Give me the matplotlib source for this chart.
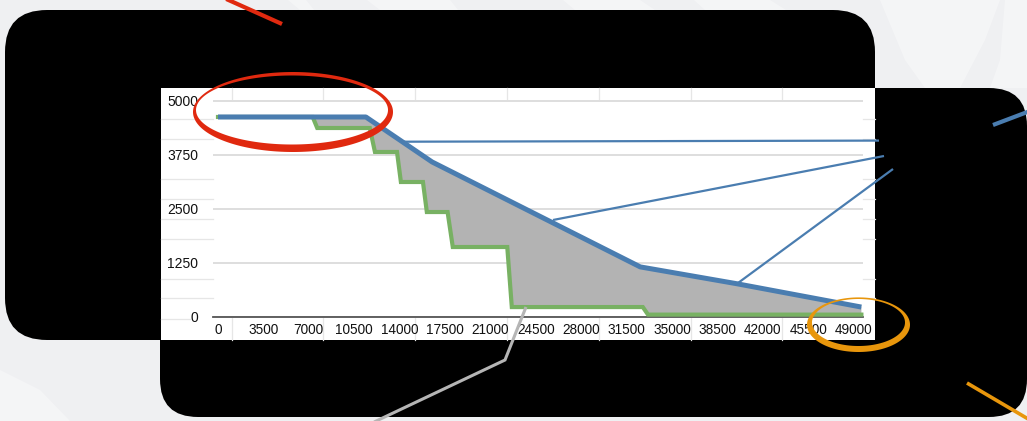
import matplotlib
matplotlib.use("Agg")
import matplotlib.pyplot as plt
from matplotlib.patches import FancyBboxPatch, Rectangle, PathPatch, Polygon
from matplotlib.path import Path
import numpy as np

# ---------------- data ----------------
x_ticks = [0, 3500, 7000, 10500, 14000, 17500, 21000, 24500, 28000,
           31500, 35000, 38500, 42000, 45500, 49000]
x_tick_labels = [str(v) for v in x_ticks]
y_ticks = [0, 1250, 2500, 3750, 5000]
y_tick_labels = [str(v) for v in y_ticks]

blue_x = [0, 11400, 16500, 32550, 40000, 49600]
blue_y = [4630, 4630, 3590, 1160, 770, 230]

green_x = [0, 7300, 7650, 11700, 12100, 13800, 14100, 15800, 16100,
           17700, 18100, 22300, 22650, 32750, 33150, 49600]
green_y = [4630, 4630, 4375, 4375, 3820, 3820, 3125, 3125, 2430,
           2430, 1620, 1620, 230, 230, 55, 55]

# ---------------- styles ----------------
BG = "#eff0f2"
BLUE = "#4a7db0"
GREEN = "#78b163"
FILL = "#b3b3b3"
RED = "#e0290f"
ORANGE = "#e8960c"
LGRAY = "#b5b5b5"
GRID = "#dedede"
FONT = "Liberation Sans"

W, H = 1027, 421
fig = plt.figure(figsize=(W / 100, H / 100), dpi=100)
fig.patch.set_facecolor(BG)

# background / decoration layer (pixel coordinates)
bg = fig.add_axes([0, 0, 1, 1], zorder=0)
bg.set_xlim(0, W)
bg.set_ylim(H, 0)
bg.axis("off")
bg.patch.set_alpha(0)

# faint white splashes in the background
for poly in [
    [(288, 0), (300, 10), (314, 10), (306, 0)],
    [(367, 0), (380, 10), (458, 10), (450, 0)],
    [(563, 0), (575, 10), (655, 10), (640, 0)],
    [(694, 0), (705, 10), (786, 10), (770, 0)],
    [(880, 0), (905, 60), (925, 88), (960, 88), (985, 40), (1000, 0)],
    [(1005, 0), (1000, 60), (990, 88), (1027, 88), (1027, 0)],
    [(0, 370), (40, 390), (70, 421), (0, 421)],
]:
    bg.add_patch(Polygon(poly, closed=True, facecolor="white", edgecolor="none", alpha=0.35))

# black rounded boxes
bg.add_patch(FancyBboxPatch((5, 10), 870, 330,
                            boxstyle="round,pad=0,rounding_size=42",
                            facecolor="black", edgecolor="none"))
bg.add_patch(FancyBboxPatch((160, 88), 867, 329,
                            boxstyle="round,pad=0,rounding_size=38",
                            facecolor="black", edgecolor="none"))
# white chart image
bg.add_patch(Rectangle((161, 88), 714, 252, facecolor="white", edgecolor="none"))

# spreadsheet cell lines behind the chart
for yy in [119, 139, 179, 199, 219, 239, 279, 298]:
    bg.plot([161, 213], [yy, yy], color="#e6e6e6", lw=0.9)
    bg.plot([863, 875], [yy, yy], color="#e6e6e6", lw=0.9)
bg.plot([161, 190], [319, 319], color="#e6e6e6", lw=0.9)
for xx in [232, 323, 415, 507, 599, 691, 782]:
    bg.plot([xx, xx], [88, 100], color="#e6e6e6", lw=0.9)
    bg.plot([xx, xx], [318, 340], color="#e6e6e6", lw=0.9)

# ---------------- chart axes ----------------
px_per_unit_x = 45.4 / 3500.0
x0_px = 218.0
ax_left_px, ax_right_px = 213.0, 863.0
ax_top_px, ax_bot_px = 88.0, 317.0
px_per_unit_y = 216.0 / 5000.0

xmin = (ax_left_px - x0_px) / px_per_unit_x
xmax = (ax_right_px - x0_px) / px_per_unit_x
ymax = (ax_bot_px - ax_top_px) / px_per_unit_y

ax = fig.add_axes([ax_left_px / W, 1 - ax_bot_px / H,
                   (ax_right_px - ax_left_px) / W, (ax_bot_px - ax_top_px) / H],
                  zorder=1)
ax.patch.set_alpha(0)
ax.set_xlim(xmin, xmax)
ax.set_ylim(0, ymax)

ax.set_yticks(y_ticks)
ax.set_yticklabels(y_tick_labels, fontsize=10, family=FONT, color="#111111")
ax.set_xticks(x_ticks)
ax.set_xticklabels(x_tick_labels, fontsize=9.8, family=FONT, color="#111111")
ax.tick_params(axis="both", length=0)
ax.tick_params(axis="y", pad=10.5)
ax.tick_params(axis="x", pad=4.5)
for s in ["top", "right", "left"]:
    ax.spines[s].set_visible(False)
ax.spines["bottom"].set_color("#555555")
ax.spines["bottom"].set_linewidth(1.3)
ax.grid(axis="y", color=GRID, lw=1.4)
ax.set_axisbelow(True)

# shaded gap between the two series
poly_x = list(blue_x) + list(green_x[::-1])
poly_y = list(blue_y) + list(green_y[::-1])
ax.fill(poly_x, poly_y, color=FILL, lw=0, zorder=2)

ax.plot(green_x, green_y, color=GREEN, lw=3.0, zorder=3,
        solid_joinstyle="miter", clip_on=False)
ax.plot(blue_x, blue_y, color=BLUE, lw=3.6, zorder=4,
        solid_capstyle="butt", clip_on=False)

# ---------------- overlay annotations ----------------
ov = fig.add_axes([0, 0, 1, 1], zorder=3)
ov.set_xlim(0, W)
ov.set_ylim(H, 0)
ov.axis("off")
ov.patch.set_alpha(0)


def ring(cx_o, cy_o, a_o, b_o, cx_i, cy_i, a_i, b_i, color):
    t = np.linspace(0, 2 * np.pi, 240)
    outer = np.column_stack([cx_o + a_o * np.cos(t), cy_o + b_o * np.sin(t)])
    inner = np.column_stack([cx_i + a_i * np.cos(-t), cy_i + b_i * np.sin(-t)])
    codes = [Path.MOVETO] + [Path.LINETO] * (len(t) - 2) + [Path.CLOSEPOLY]
    p = Path.make_compound_path(Path(outer, codes), Path(inner, codes))
    ov.add_patch(PathPatch(p, facecolor=color, edgecolor="none"))


# red ellipse (top-left)
ring(293, 112, 100, 40, 292, 110, 96, 34.5, RED)
# orange ellipse (bottom-right)
ring(858.5, 324.7, 51.5, 27.3, 858.5, 322.5, 46.5, 23.5, ORANGE)

# callout lines
ov.plot([403, 879], [141.7, 140.6], color=BLUE, lw=1.6, solid_capstyle="butt")
ov.plot([553, 884], [220, 156], color=BLUE, lw=1.6, solid_capstyle="butt")
ov.plot([738, 893], [283, 169], color=BLUE, lw=1.6, solid_capstyle="butt")
ov.plot([993, 1030], [125, 111], color=BLUE, lw=3.0, solid_capstyle="butt")
ov.plot([224, 282], [-2, 24], color=RED, lw=3.0, solid_capstyle="butt")
ov.plot([967, 1035], [383, 423], color=ORANGE, lw=2.6, solid_capstyle="butt")
ov.plot([526, 505, 372], [307, 360, 423], color=LGRAY, lw=2.2,
        solid_joinstyle="miter", solid_capstyle="butt")

fig.savefig("out.png", dpi=100, facecolor=fig.get_facecolor())
